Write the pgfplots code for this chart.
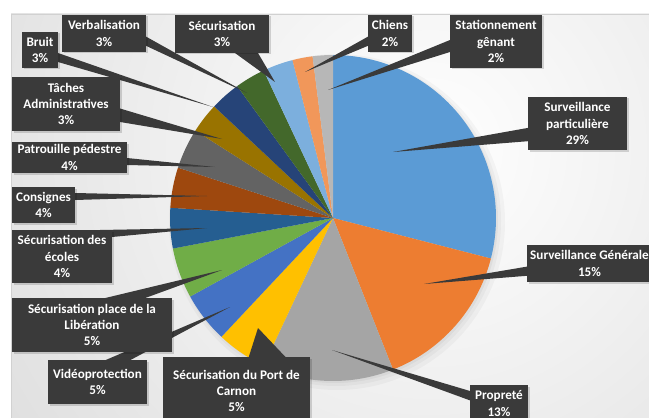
\documentclass[border=0pt]{standalone}
\usepackage{pgfplots}
\pgfplotsset{compat=1.18}
\usepackage{pgfplotstable}
\usepackage{fontspec}
\setmainfont{Carlito}

% Office palette, in slice order (clockwise from 12 o'clock)
\definecolor{c0}{HTML}{5B9BD5}
\definecolor{c1}{HTML}{ED7D31}
\definecolor{c2}{HTML}{A5A5A5}
\definecolor{c3}{HTML}{FFC000}
\definecolor{c4}{HTML}{4472C4}
\definecolor{c5}{HTML}{70AD47}
\definecolor{c6}{HTML}{255E91}
\definecolor{c7}{HTML}{9E480E}
\definecolor{c8}{HTML}{636363}
\definecolor{c9}{HTML}{997300}
\definecolor{c10}{HTML}{264478}
\definecolor{c11}{HTML}{43682B}
\definecolor{c12}{HTML}{7CAFDD}
\definecolor{c13}{HTML}{F1975A}
\definecolor{c14}{HTML}{B7B7B7}
\definecolor{lbl}{HTML}{3A3A3A}

\pgfplotstableread{
label value
SurvPart 29
SurvGen 15
Proprete 13
Port 5
Video 5
Liberation 5
Ecoles 4
Consignes 4
Patrouille 4
Taches 3
Bruit 3
Verbalisation 3
Securisation 3
Chiens 2
Stationnement 2
}\piedata

% start / end angle of every slice
\xdef\cum{0}
\foreach \i in {0,...,14}{%
  \pgfplotstablegetelem{\i}{value}\of\piedata
  \pgfmathsetmacro\angA{90-3.6*\cum}%
  \pgfmathsetmacro\nc{\cum+\pgfplotsretval}%
  \pgfmathsetmacro\angB{90-3.6*\nc}%
  \expandafter\xdef\csname sa\i\endcsname{\angA}%
  \expandafter\xdef\csname sb\i\endcsname{\angB}%
  \xdef\cum{\nc}%
}

\newcommand\tail[3]{\fill[lbl] (axis cs:#1) -- (axis cs:#3) -- (axis cs:#2) -- cycle;}
\newcommand\lbox[5]{%
  \fill[black,opacity=.15] ([xshift=1.5bp,yshift=-1.5bp]axis cs:#1,#2) rectangle ([xshift=1.5bp,yshift=-1.5bp]axis cs:#3,#4);
  \fill[lbl] (axis cs:#1,#2) rectangle (axis cs:#3,#4);
  \node[text=white, align=center, inner sep=0pt,
        font=\fontsize{13.2}{16.2}\selectfont\bfseries]
    at (axis cs:{(#1+#3)/2},{(#2+#4)/2}) {#5};}

\begin{document}
\begin{tikzpicture}
\useasboundingbox (0,0) rectangle (649bp,418bp);
\clip (0,0) rectangle (649bp,418bp);
\fill[white] (0,0) rectangle (649bp,418bp);
\begin{scope}
  \clip (11bp,0) rectangle (649bp,404bp);
  \shade[inner color=white, outer color=black!22] (430bp,268bp) circle[radius=900bp];
\end{scope}
\draw[black!18, line width=0.8bp] (11bp,0) -- (11bp,404bp) -- (649bp,404bp);

\begin{axis}[
    hide axis,
    scale only axis,
    width=649bp, height=418bp,
    xmin=0, xmax=649, ymin=0, ymax=418,
    y dir=reverse,
    clip=false,
]
  % soft shadow under the pie
  \fill[black,opacity=.03] (axis cs:337,222) circle[radius=168bp];
  \fill[black,opacity=.03] (axis cs:336,221) circle[radius=165bp];
  \fill[black,opacity=.04] (axis cs:335,220) circle[radius=163bp];
  \pgfplotsinvokeforeach{0,...,14}{%
    \fill[c#1] (axis cs:333,218) -- ++({\csname sa#1\endcsname}:163bp)
      arc[start angle={\csname sa#1\endcsname}, end angle={\csname sb#1\endcsname}, radius=163bp] -- cycle;
  }

  % callout tails
  \tail{528,127.9}{528,141.2}{393,152}
  \tail{527,266.6}{527,275.8}{424,284}
  \tail{470,391}{470,400.4}{332,350}
  \tail{248.75,357}{285.5,357}{258,328}
  \tail{105.75,360}{130.5,360}{230,307}
  \tail{105.3,298}{145.3,298}{222,270}
  \tail{100,230}{112,237}{207,228}
  \tail{75,193}{75,200}{207,196}
  \tail{127,158}{127,165}{215,167}
  \tail{120,108.5}{120,122}{222,139}
  \tail{58,53}{58,62}{213,107}
  \tail{146,36.6}{146,45.8}{247,93}
  \tail{235,53}{258,53}{275,82}
  \tail{368,36.6}{368,45.8}{305,72}
  \tail{450,40}{450,52}{328,90}

  % callout boxes
  \lbox{528}{97}{627}{150}{Surveillance\\particulière\\29\%}
  \lbox{527}{245}{652}{282}{Surveillance Générale\\15\%}
  \lbox{470}{385}{528}{422}{Propreté\\13\%}
  \lbox{163}{357}{310}{425}{Sécurisation du Port de\\Carnon\\5\%}
  \lbox{48}{360}{147}{404}{Vidéoprotection\\5\%}
  \lbox{12}{298}{172}{352}{Sécurisation place de la\\Libération\\5\%}
  \lbox{12}{230}{112}{283}{Sécurisation des\\écoles\\4\%}
  \lbox{12}{187}{75}{223}{Consignes\\4\%}
  \lbox{12}{142}{127}{173}{Patrouille pédestre\\4\%}
  \lbox{12}{77}{120}{131}{Tâches\\Administratives\\3\%}
  \lbox{22}{32}{58}{68}{Bruit\\3\%}
  \lbox{62}{15}{146}{52}{Verbalisation\\3\%}
  \lbox{175}{15}{269}{53}{Sécurisation\\3\%}
  \lbox{368}{15}{412}{52}{Chiens\\2\%}
  \lbox{450}{15}{542}{68}{Stationnement\\gênant\\2\%}
\end{axis}
\end{tikzpicture}
\end{document}
